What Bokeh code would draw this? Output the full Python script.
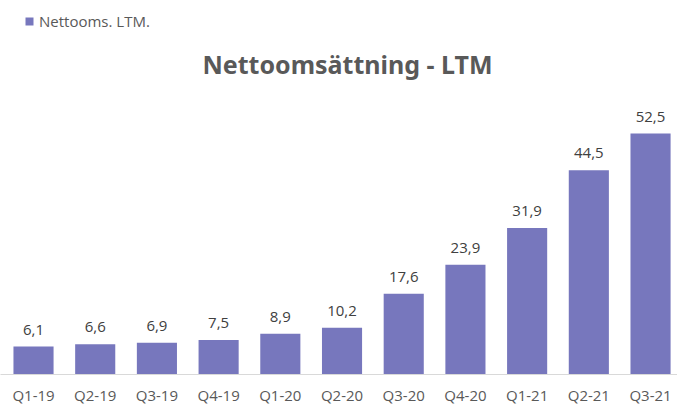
from bokeh.plotting import figure
from bokeh.models import ColumnDataSource, Range1d, FixedTicker, LabelSet, Label, Legend, LegendItem
from bokeh.core.properties import value
from bokeh.embed import file_html
from bokeh.resources import INLINE

categories = ["Q1-19", "Q2-19", "Q3-19", "Q4-19", "Q1-20", "Q2-20",
              "Q3-20", "Q4-20", "Q1-21", "Q2-21", "Q3-21"]
values = [6.1, 6.6, 6.9, 7.5, 8.9, 10.2, 17.6, 23.9, 31.9, 44.5, 52.5]
series_name = "Nettooms. LTM."
title_text = "Nettoomsättning - LTM"

xs = list(range(len(categories)))
labels = [f"{v:.1f}".replace(".", ",") for v in values]
src = ColumnDataSource(dict(x=xs, top=values, lbl=labels))

BAR = "#7777BD"
p = figure(width=677, height=408, output_backend="svg", toolbar_location=None,
           x_range=Range1d(-0.535, 10.437), y_range=Range1d(0, 81.5),
           min_border_left=0, min_border_right=0, min_border_top=0, min_border_bottom=34)
p.outline_line_color = None
p.grid.visible = False
p.yaxis.visible = False

r = p.vbar(x="x", top="top", width=0.65, source=src, fill_color=BAR, line_color=None)

ax = p.xaxis[0]
ax.ticker = FixedTicker(ticks=xs)
ax.major_label_overrides = {i: c for i, c in zip(xs, categories)}
ax.major_tick_line_color = None
ax.minor_tick_line_color = None
ax.major_tick_out = 0
ax.major_tick_in = 0
ax.axis_line_color = "#D9D9D9"
ax.major_label_text_font = "Open Sans"
ax.major_label_text_font_size = "15px"
ax.major_label_text_line_height = 0.8
ax.major_label_text_color = "#595959"
ax.major_label_standoff = 10

p.add_layout(LabelSet(x="x", y="top", text="lbl", source=src, text_align="center",
                      text_baseline="alphabetic", y_offset=12, text_font=value("Open Sans"),
                      text_font_size="15px", text_color="#404040"))

p.add_layout(Label(x=347, y=311, x_units="screen", y_units="screen", text=title_text,
                   text_align="center", text_baseline="alphabetic", text_font="Noto Sans",
                   text_font_style="bold", text_font_size="25px", text_color="#595959"))

legend = Legend(items=[LegendItem(label=series_name, renderers=[r])], location=(24, 343),
                margin=0, padding=2, glyph_width=10, glyph_height=10, label_height=18,
                label_standoff=5, label_text_font="Open Sans", label_text_font_size="15px",
                label_text_color="#595959", border_line_color=None, background_fill_alpha=0)
p.add_layout(legend)

open("out.html", "w").write(file_html(p, INLINE))
